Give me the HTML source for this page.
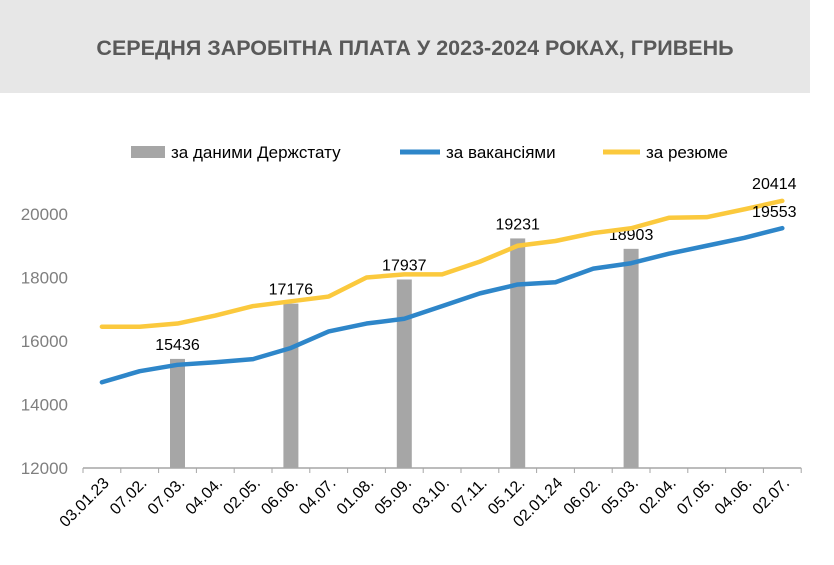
<!DOCTYPE html>
<html><head><meta charset="utf-8"><style>
body{margin:0;background:#fff;font-family:"Liberation Sans",sans-serif}
svg text{font-family:"Liberation Sans",sans-serif}
</style></head><body>
<svg width="834" height="560" xmlns="http://www.w3.org/2000/svg" id="chart">
<rect x="0" y="0" width="810" height="93" fill="#e7e7e7"/>
<text x="415" y="55" text-anchor="middle" font-size="21.5" font-weight="bold" fill="#595959">СЕРЕДНЯ ЗАРОБІТНА ПЛАТА У 2023-2024 РОКАХ, ГРИВЕНЬ</text>
<g>
<rect x="131" y="146" width="34" height="12" fill="#a6a6a6"/>
<text x="171" y="158" font-size="17" fill="#000">за даними Держстату</text>
<line x1="400" y1="152" x2="440" y2="152" stroke="#2e86c9" stroke-width="5"/>
<text x="446" y="158" font-size="17" fill="#000">за вакансіями</text>
<line x1="603" y1="152" x2="640" y2="152" stroke="#fbc93d" stroke-width="5"/>
<text x="646" y="158" font-size="17" fill="#000">за резюме</text>
</g>
<g id="plot"></g>
</svg>
<script>
const categories=["03.01.23","07.02.","07.03.","04.04.","02.05.","06.06.","04.07.","01.08.","05.09.","03.10.","07.11.","05.12.","02.01.24","06.02.","05.03.","02.04.","07.05.","04.06.","02.07."];
const vacancies=[14700,15050,15250,15330,15430,15780,16300,16550,16700,17100,17500,17780,17850,18280,18450,18750,19000,19250,19553];
const resume=[16450,16450,16550,16800,17100,17250,17400,18000,18100,18100,18500,19000,19150,19400,19550,19880,19900,20150,20414];
const barIndex=[2,5,8,11,14];
const barValues=[15436,17176,17937,19231,18903];
const yTicks=[12000,14000,16000,18000,20000];
const ns="http://www.w3.org/2000/svg";
const g=document.getElementById('plot');
const x0=83,step=37.8,yBase=468,yPer=(468-214)/8000;
const xs=i=>x0+step*(i+0.5);
const ys=v=>yBase-(v-12000)*yPer;
function mk(t,a){const e=document.createElementNS(ns,t);for(const k in a)e.setAttribute(k,a[k]);g.appendChild(e);return e;}
yTicks.forEach(v=>{const t=mk('text',{x:68,y:ys(v)+6,'text-anchor':'end','font-size':17,fill:'#7f7f7f'});t.textContent=v;

});
barIndex.forEach((ci,k)=>{const v=barValues[k];const r=mk('rect',{x:xs(ci)-7.5,y:ys(v),width:15,height:yBase-ys(v),fill:'#a6a6a6'});


const t=mk('text',{x:xs(ci),y:ys(v)-9,'text-anchor':'middle','font-size':16,fill:'#000'});t.textContent=v;

});
const ax=mk('line',{x1:x0,y1:yBase,x2:x0+step*categories.length,y2:yBase,stroke:'#a6a6a6','stroke-width':1.5});


for(let i=0;i<=categories.length;i++){const tk=mk('line',{x1:x0+step*i,y1:yBase,x2:x0+step*i,y2:yBase+5,stroke:'#a6a6a6'});

}
categories.forEach((c,i)=>{const x=xs(i)+8,y=yBase+16;const t=mk('text',{x:x,y:y,'text-anchor':'end','font-size':16,fill:'#000',transform:`rotate(-45 ${x} ${y})`});t.textContent=c;

});
function line(arr,col,name){const p=mk('polyline',{points:arr.map((v,i)=>xs(i)+','+ys(v)).join(' '),fill:'none',stroke:col,'stroke-width':4.5,'stroke-linejoin':'round','stroke-linecap':'round'});

}
line(resume,'#fbc93d','line-resume');
line(vacancies,'#2e86c9','line-vacancies');
const n=categories.length-1;
const l1=mk('text',{x:xs(n)-8,y:ys(resume[n])-12,'text-anchor':'middle','font-size':16,fill:'#000'});l1.textContent=resume[n];


const l2=mk('text',{x:xs(n)-8,y:ys(vacancies[n])-11,'text-anchor':'middle','font-size':16,fill:'#000'});l2.textContent=vacancies[n];


</script>
</body></html>
